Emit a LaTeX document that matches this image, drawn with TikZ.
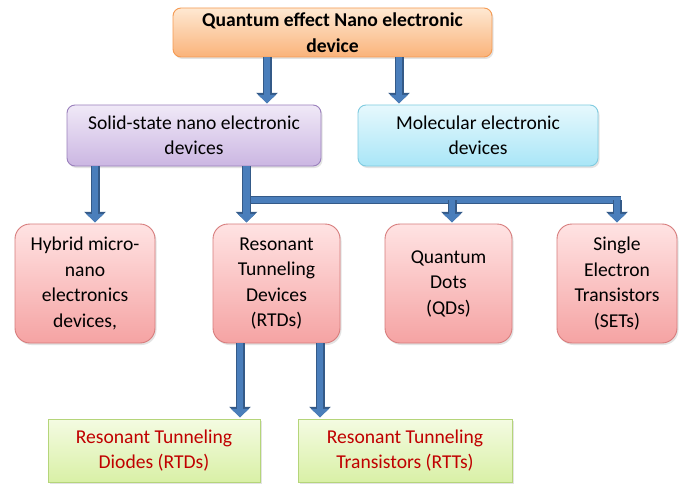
\documentclass[tikz,border=0pt]{standalone}
\usepackage{fontspec}
\setmainfont{Carlito}
\usetikzlibrary{arrows.meta,shadows}

\definecolor{arrowfill}{HTML}{4A7EBB}
\definecolor{arrowedge}{HTML}{345A88}
\definecolor{orangetop}{HTML}{FEE8D2}
\definecolor{orangebot}{HTML}{FAB37A}
\definecolor{orangeedge}{HTML}{F59A52}
\definecolor{purpletop}{HTML}{F0E9F7}
\definecolor{purplebot}{HTML}{CBB6E2}
\definecolor{purpleedge}{HTML}{9A80BC}
\definecolor{cyantop}{HTML}{E6F8FD}
\definecolor{cyanbot}{HTML}{A9E6F7}
\definecolor{cyanedge}{HTML}{7FCBE0}
\definecolor{redtop}{HTML}{FFE3E3}
\definecolor{redbot}{HTML}{F5A3A3}
\definecolor{rededge}{HTML}{D77C7C}
\definecolor{greentop}{HTML}{F4FBE2}
\definecolor{greenbot}{HTML}{D9F0A6}
\definecolor{greenedge}{HTML}{B5D57A}
\definecolor{darkredtext}{HTML}{C00000}

\tikzset{
  box/.style={draw, line width=0.9pt, align=center, inner sep=2pt,
    font=\fontsize{19.6}{25.5}\selectfont,
    drop shadow={opacity=0.22, shadow xshift=1.5pt, shadow yshift=-2pt}},
  topbox/.style={box, rounded corners=8pt, draw=orangeedge, shading=axis,
    top color=orangetop, bottom color=orangebot,
    font=\fontsize{19.6}{25.5}\selectfont\bfseries},
  purplebox/.style={box, rounded corners=8pt, draw=purpleedge, shading=axis,
    top color=purpletop, bottom color=purplebot},
  cyanbox/.style={box, rounded corners=8pt, draw=cyanedge, shading=axis,
    top color=cyantop, bottom color=cyanbot},
  redbox/.style={box, rounded corners=15pt, draw=rededge, shading=axis,
    top color=redtop, bottom color=redbot},
  greenbox/.style={box, draw=greenedge, shading=axis,
    top color=greentop, bottom color=greenbot, text=darkredtext},
  blockarrow/.style={
    preaction={draw=arrowedge, line width=9pt,
      -{Triangle[width=21pt,length=10.5pt]}},
    draw=arrowfill, line width=6.5pt, shorten >=1.2pt,
    -{Triangle[width=17pt,length=8.5pt]}},
  busline/.style={
    preaction={draw=arrowedge, line width=8.5pt},
    draw=arrowfill, line width=6pt}
}

\begin{document}
\begin{tikzpicture}[x=1pt,y=-1pt]
\useasboundingbox (0,0) rectangle (682,484);
\fill[white] (0,0) rectangle (682,484);

% top level
\node[topbox, minimum width=319pt, minimum height=49pt] (qe) at (332.5,32.5)
  {Quantum effect Nano electronic\\device};

% second level
\node[purplebox, minimum width=254pt, minimum height=61pt] (solid) at (194,135.5)
  {Solid-state nano electronic\\devices};
\node[cyanbox, minimum width=240pt, minimum height=61pt] (mol) at (478,135.5)
  {Molecular electronic\\devices};

% third level
\node[redbox, minimum width=140pt, minimum height=119pt] (hyb) at (85,283.5)
  {Hybrid micro-\\nano\\electronics\\devices,};
\node[redbox, minimum width=127pt, minimum height=119pt] (rtd) at (276.5,283.5)
  {Resonant\\Tunneling\\Devices\\(RTDs)};
\node[redbox, minimum width=127pt, minimum height=119pt] (qd) at (448.5,283.5)
  {Quantum\\Dots\\(QDs)};
\node[redbox, minimum width=120pt, minimum height=119pt] (set) at (617,283.5)
  {Single\\Electron\\Transistors\\(SETs)};

% fourth level
\node[greenbox, minimum width=212pt, minimum height=63pt] (diode) at (154,450.5)
  {Resonant Tunneling\\Diodes (RTDs)};
\node[greenbox, minimum width=214pt, minimum height=63pt] (trans) at (405,450.5)
  {Resonant Tunneling\\Transistors (RTTs)};

% bus joining the solid-state branch to its right-hand children
\coordinate (busL) at (246.5,200);
\coordinate (busM) at (452,200);
\coordinate (busR) at (617,200);
\draw[busline] (busL) -- ([xshift=3.5pt]busR);

% connectors
\draw[blockarrow] (qe.south -| 267,0) -- (solid.north -| 267,0);
\draw[blockarrow] (qe.south -| 399,0) -- (mol.north -| 399,0);
\draw[blockarrow] (solid.south -| 95,0) -- (hyb.north -| 95,0);
\draw[blockarrow] (solid.south -| busL) -- (rtd.north -| busL);
\draw[blockarrow] (busM) -- (qd.north -| busM);
\draw[blockarrow] (busR) -- (set.north -| busR);
\draw[blockarrow] (rtd.south -| 240,0) -- (diode.north -| 240,0);
\draw[blockarrow] (rtd.south -| 320,0) -- (trans.north -| 320,0);
\end{tikzpicture}
\end{document}
